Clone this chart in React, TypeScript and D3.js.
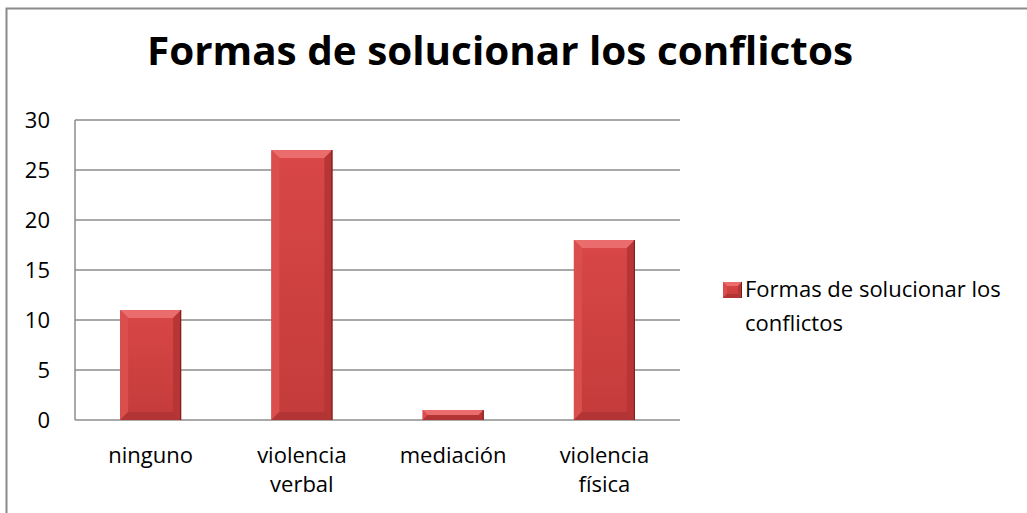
import * as d3 from "d3";
import { useEffect } from "react";

const title = "Formas de solucionar los conflictos";
const categories = ["ninguno", "violencia verbal", "mediación", "violencia física"];
const values = [11, 27, 1, 18];
const yTicks = [0, 5, 10, 15, 20, 25, 30];

const W = 1027;
const H = 513;
const plot = { left: 75, right: 680, top: 120, bottom: 420 };
const font = "'Open Sans', 'Liberation Sans', sans-serif";

function Bevel({ x, y, w, h, b }: { x: number; y: number; w: number; h: number; b: number }) {
  const bb = Math.min(b, h / 2, w / 2);
  const x1 = x + w;
  const y1 = y + h;
  return (
    <g>
      <rect x={x} y={y} width={w} height={h} fill="url(#barFill)" />
      <polygon points={`${x},${y} ${x1},${y} ${x1 - bb},${y + bb} ${x + bb},${y + bb}`} fill="#ea6c6c" />
      <polygon points={`${x},${y} ${x + bb},${y + bb} ${x + bb},${y1 - bb} ${x},${y1}`} fill="#da4e4e" />
      <polygon points={`${x1},${y} ${x1},${y1} ${x1 - bb},${y1 - bb} ${x1 - bb},${y + bb}`} fill="#b83535" />
      <polygon points={`${x},${y1} ${x1},${y1} ${x1 - bb},${y1 - bb} ${x + bb},${y1 - bb}`} fill="#b23434" />
      <line x1={x1 - 0.5} x2={x1 - 0.5} y1={y} y2={y1} stroke="#7a1c1c" strokeWidth={1} />
    </g>
  );
}

export default function App() {
  useEffect(() => {
    document.body.style.margin = "0";
  }, []);

  const x = d3.scaleBand<string>().domain(categories).range([plot.left, plot.right]);
  const y = d3.scaleLinear().domain([0, 30]).range([plot.bottom, plot.top]);

  return (
    <svg width={W} height={H} style={{ display: "block" }} fontFamily={font}>
      <defs>
        <linearGradient id="barFill" x1="0" y1="0" x2="0" y2="1">
          <stop offset="0" stopColor="#d94747" />
          <stop offset="1" stopColor="#c43b3b" />
        </linearGradient>
      </defs>
      <rect x={0} y={0} width={W} height={H} fill="#fff" />
      <rect x={6.5} y={8.5} width={W + 10} height={H + 10} fill="none" stroke="#8a8a8a" strokeWidth={2} />

      <text x={500} y={65} textAnchor="middle" fontSize={39} fontWeight="bold" fill="#000" textLength={706} lengthAdjust="spacingAndGlyphs">
        {title}
      </text>

      {yTicks.map((t) => (
        <g key={t}>
          <line x1={plot.left} x2={plot.right} y1={y(t)} y2={y(t)} stroke="#8c8c8c" strokeWidth={1.5} />
          <text x={50} y={y(t)} dy="0.36em" textAnchor="end" fontSize={22} fill="#000">
            {t}
          </text>
        </g>
      ))}
      <line x1={plot.left} x2={plot.left} y1={plot.top} y2={plot.bottom} stroke="#8c8c8c" strokeWidth={1.5} />

      {categories.map((c, i) => {
        const cx = (x(c) ?? 0) + x.bandwidth() / 2;
        const bw = 61;
        const top = y(values[i]);
        const lines = c.split(" ");
        return (
          <g key={c}>
            <Bevel x={cx - bw / 2} y={top} w={bw} h={plot.bottom - top} b={8} />
            <text x={cx} y={463} textAnchor="middle" fontSize={22} fill="#000">
              {lines.map((l, k) => (
                <tspan key={k} x={cx} dy={k === 0 ? 0 : 29}>
                  {l}
                </tspan>
              ))}
            </text>
          </g>
        );
      })}

      <Bevel x={723} y={282} w={19} h={16} b={4} />
      <text x={745} y={297} fontSize={22} fill="#000">
        <tspan x={745}>Formas de solucionar los</tspan>
        <tspan x={745} dy={34}>conflictos</tspan>
      </text>
    </svg>
  );
}
